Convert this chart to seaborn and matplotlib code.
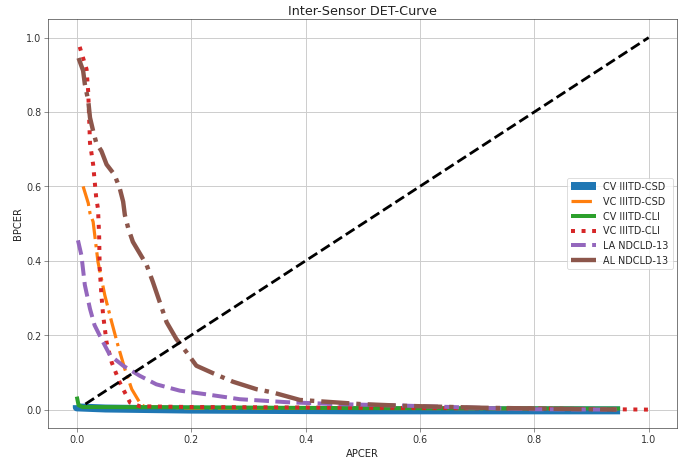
import numpy as np
import pandas as pd
import matplotlib
matplotlib.use("Agg")
import matplotlib.pyplot as plt
import seaborn as sns

# Curvas DET (APCER, BPCER)
cv_csd_x = [0.0, 0.0, 0.05, 0.2, 0.5, 0.95]
cv_csd_y = [0.012, 0.006, 0.003, 0.0, -0.002, -0.002]

vc_csd_x = [0.011, 0.02, 0.023, 0.0285, 0.037, 0.049, 0.061, 0.072, 0.084, 0.096, 0.11, 0.118, 0.2, 0.95]
vc_csd_y = [0.60, 0.555, 0.528, 0.505, 0.397, 0.307, 0.235, 0.172, 0.109, 0.055, 0.019, 0.008, 0.004, 0.002]

cv_cli_x = [0.0, 0.003, 0.01, 0.2, 0.5, 0.95]
cv_cli_y = [0.035, 0.012, 0.007, 0.006, 0.004, 0.003]

vc_cli_x = [0.005, 0.017, 0.02, 0.0215, 0.023, 0.0285, 0.034, 0.037, 0.039, 0.04, 0.043,
            0.046, 0.052, 0.061, 0.075, 0.093, 0.11, 0.2, 0.5, 0.8, 1.0]
vc_cli_y = [0.975, 0.915, 0.852, 0.785, 0.717, 0.659, 0.568, 0.540, 0.47, 0.38, 0.308,
            0.254, 0.181, 0.127, 0.073, 0.019, 0.009, 0.007, 0.005, 0.003, 0.0]

la_nd_x = [0.002, 0.008, 0.014, 0.023, 0.031, 0.043, 0.058, 0.081, 0.11, 0.139, 0.18,
           0.227, 0.285, 0.367, 0.45, 0.565, 0.7, 0.8, 0.944]
la_nd_y = [0.455, 0.415, 0.335, 0.271, 0.227, 0.19, 0.146, 0.118, 0.091, 0.068, 0.051,
           0.041, 0.028, 0.02, 0.015, 0.011, 0.005, 0.001, 0.0]

al_nd_x = [0.003, 0.011, 0.014, 0.02, 0.023, 0.0285, 0.034, 0.043, 0.052, 0.066, 0.075,
           0.081, 0.084, 0.09, 0.098, 0.122, 0.133, 0.145, 0.157, 0.174, 0.192, 0.209,
           0.238, 0.273, 0.314, 0.343, 0.39, 0.495, 0.576, 0.71, 0.944]
al_nd_y = [0.945, 0.911, 0.875, 0.83, 0.785, 0.749, 0.717, 0.695, 0.659, 0.631, 0.595,
           0.559, 0.523, 0.487, 0.451, 0.389, 0.343, 0.289, 0.235, 0.19, 0.154, 0.118,
           0.098, 0.075, 0.055, 0.046, 0.026, 0.015, 0.01, 0.005, 0.0]

diag_x = [0.015, 1.0]
diag_y = [0.015, 1.0]

curvas = [
    ('CV IIITD-CSD', cv_csd_x, cv_csd_y, '#1f77b4', '-', 10),
    ('VC IIITD-CSD', vc_csd_x, vc_csd_y, '#ff7f0e', '-.', 4),
    ('CV IIITD-CLI', cv_cli_x, cv_cli_y, '#2ca02c', '-', 5),
    ('VC IIITD-CLI', vc_cli_x, vc_cli_y, '#d62728', ':', 5),
    ('LA NDCLD-13', la_nd_x, la_nd_y, '#9467bd', '--', 5),
    ('AL NDCLD-13', al_nd_x, al_nd_y, '#8c564b', '-.', 5.5),
]

sns.set_style("ticks")
plt.rcParams['font.family'] = ['DejaVu Sans']

fig, ax = plt.subplots(figsize=(12, 8), dpi=689 / 12)

for nombre, xs, ys, color, ls, lw in curvas:
    df = pd.DataFrame({'APCER': xs, 'BPCER': ys})
    sns.lineplot(data=df, x='APCER', y='BPCER', sort=False, estimator=None,
                 color=color, linestyle=ls, linewidth=lw, label=nombre, ax=ax,
                 solid_capstyle='butt', dash_capstyle='butt')

sns.lineplot(x=diag_x, y=diag_y, sort=False, estimator=None, color='black',
             linestyle='--', linewidth=3.5, ax=ax)

ax.set_xlim(-0.05, 1.05)
ax.set_ylim(-0.05, 1.05)
ax.set_xticks([0.0, 0.2, 0.4, 0.6, 0.8, 1.0])
ax.set_yticks([0.0, 0.2, 0.4, 0.6, 0.8, 1.0])
ax.grid(True, color='#cccccc', linewidth=1.2)
for s in ax.spines.values():
    s.set_visible(True)
    s.set_color('#333333')
ax.tick_params(labelsize=12, colors='#555555', labelcolor='#333333', length=5)
ax.set_xlabel('APCER', fontsize=12.5, color='#222222')
ax.set_ylabel('BPCER', fontsize=12.5, color='#222222')
ax.set_title('Inter-Sensor DET-Curve', fontsize=16, color='#222222')
ax.legend(loc='center right', fontsize=12, frameon=True, handlelength=2.6)

plt.subplots_adjust(left=0.07, right=0.983, bottom=0.067, top=0.958)
plt.savefig('out.png', dpi=689 / 12)
plt.close()
